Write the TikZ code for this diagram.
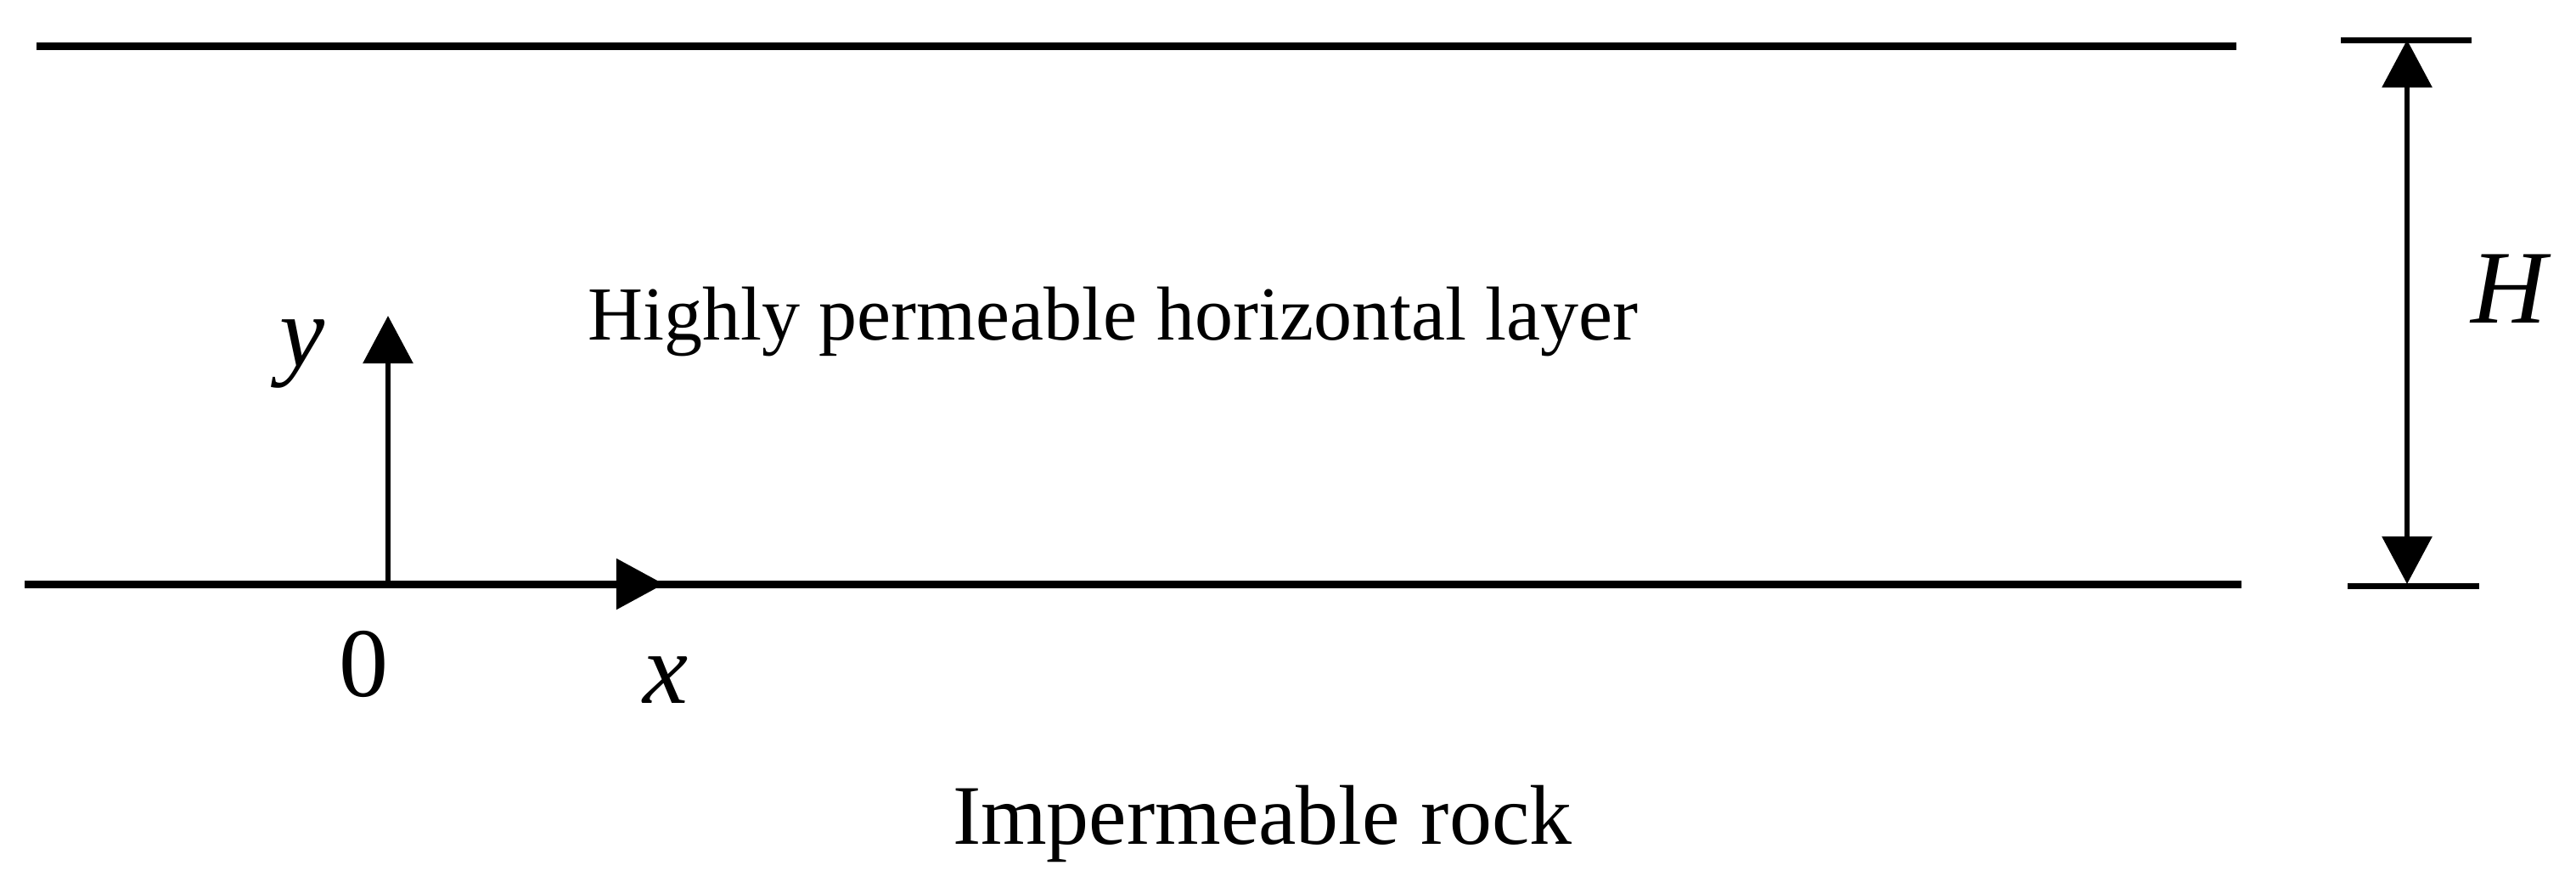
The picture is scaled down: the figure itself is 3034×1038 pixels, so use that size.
\documentclass[tikz,border=0pt]{standalone}
\usepackage{fontspec}
\setmainfont{Liberation Serif}
\usetikzlibrary{arrows.meta}
\tikzset{
  thickline/.style={line width=0.09cm, black},
  tickline/.style={line width=0.07cm, black},
  thinarrow/.style={line width=0.06cm, black, -{Triangle[width=0.58cm,length=0.56cm]}},
  dimarrow/.style={line width=0.06cm, black, {Triangle[width=0.58cm,length=0.56cm]}-{Triangle[width=0.58cm,length=0.56cm]}},
  lbl/.style={inner sep=0pt, outer sep=0pt, text=black},
}
\begin{document}
\begin{tikzpicture}[x=0.01cm, y=-0.01cm]
\useasboundingbox (0,0) rectangle (3034,1038);
% layer boundaries
\coordinate (TL) at (43,54);
\coordinate (TR) at (2634,54);
\coordinate (BL) at (29,688);
\coordinate (BR) at (2640,688);
\draw[thickline] (TL) -- (TR);
\draw[thickline] (BL) -- (BR);
% axes
\coordinate (O) at (457,688);
\coordinate (Yend) at (457,372);
\coordinate (Xend) at (782,688);
\draw[thinarrow] (O) -- (Yend);
\draw[thinarrow, line width=0.09cm] (O) -- (Xend);
% dimension H
\coordinate (HtL) at (2757,47);
\coordinate (HtR) at (2911,47);
\coordinate (HbL) at (2765,690);
\coordinate (HbR) at (2920,690);
\coordinate (Ht) at (2835,47);
\coordinate (Hb) at (2835,688);
\draw[tickline] (HtL) -- (HtR);
\draw[tickline] (HbL) -- (HbR);
\draw[dimarrow] (Ht) -- (Hb);
% labels
\node[lbl, anchor=base west, font=\fontsize{25.6}{30}\selectfont] (layer) at (692,400) {Highly permeable horizontal layer};
\node[lbl, anchor=base west, font=\fontsize{28.4}{34}\selectfont] (rock) at (1122,994) {Impermeable rock};
\node[lbl, font=\fontsize{35}{40}\selectfont\itshape] (Hlab) at (2955,340) {H};
\node[lbl, font=\fontsize{34}{40}\selectfont\itshape] (ylab) at (356,417) {y};
\node[lbl, font=\fontsize{33}{40}\selectfont] (zero) at (429,782) {0};
\node[lbl, font=\fontsize{34}{40}\selectfont\itshape] (xlab) at (784,801) {x};
\end{tikzpicture}
\end{document}
